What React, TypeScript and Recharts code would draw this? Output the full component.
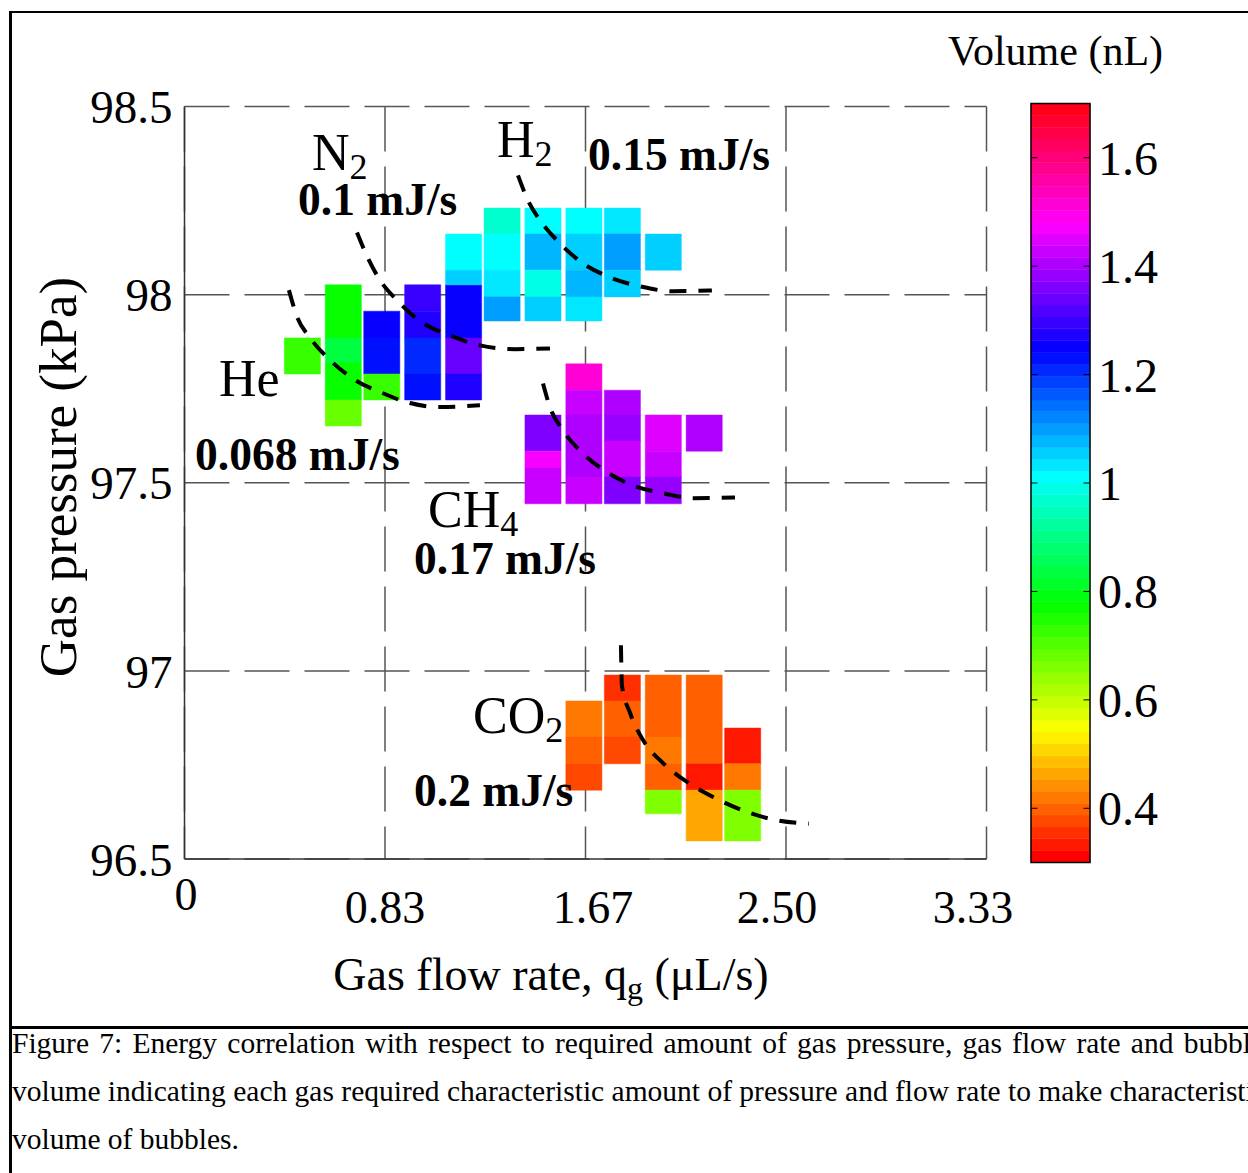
import React from 'react'
import {
  ComposedChart,
  XAxis,
  YAxis,
  CartesianGrid,
  ReferenceArea,
  ReferenceLine,
  Line,
} from 'recharts'

const FONT = '"Liberation Serif", "Times New Roman", Times, serif'

// axes
const X_TICKS = [0, 5 / 6, 5 / 3, 2.5, 10 / 3]
const X_TICK_LABELS = ['0', '0.83', '1.67', '2.50', '3.33']
const Y_TICKS = [96.5, 97, 97.5, 98, 98.5]
const CB_TICKS = [0.4, 0.6, 0.8, 1, 1.2, 1.4, 1.6]

// volume colormap (hsv, 64 steps)
const V_MIN = 0.3
const V_MAX = 1.7
const CMAP_LEVELS = 64

// cells: q = gas flow rate (uL/s), lo/hi = pressure span (kPa), vol = bubble volume (nL)
const HE_CELLS = [{ q: 0.49, lo: 97.789, hi: 97.885, vol: 0.72 }]

const N2_CELLS = [
  { q: 0.66, lo: 97.885, hi: 98.026, vol: 0.77 },
  { q: 0.66, lo: 97.818, hi: 97.885, vol: 0.83 },
  { q: 0.66, lo: 97.72, hi: 97.818, vol: 0.76 },
  { q: 0.66, lo: 97.651, hi: 97.72, vol: 0.67 },
  { q: 0.82, lo: 97.885, hi: 97.956, vol: 1.23 },
  { q: 0.82, lo: 97.789, hi: 97.885, vol: 1.21 },
  { q: 0.82, lo: 97.72, hi: 97.789, vol: 0.72 },
  { q: 0.99, lo: 97.956, hi: 98.026, vol: 1.28 },
  { q: 0.99, lo: 97.885, hi: 97.956, vol: 1.27 },
  { q: 0.99, lo: 97.789, hi: 97.885, vol: 1.19 },
  { q: 0.99, lo: 97.72, hi: 97.789, vol: 1.22 },
  { q: 1.16, lo: 97.885, hi: 98.026, vol: 1.23 },
  { q: 1.16, lo: 97.789, hi: 97.885, vol: 1.33 },
  { q: 1.16, lo: 97.72, hi: 97.789, vol: 1.26 },
]

const H2_CELLS = [
  { q: 1.16, lo: 98.065, hi: 98.161, vol: 1.0 },
  { q: 1.16, lo: 98.026, hi: 98.065, vol: 1.05 },
  { q: 1.32, lo: 98.161, hi: 98.23, vol: 0.95 },
  { q: 1.32, lo: 98.065, hi: 98.161, vol: 1.0 },
  { q: 1.32, lo: 97.994, hi: 98.065, vol: 1.02 },
  { q: 1.32, lo: 97.93, hi: 97.994, vol: 1.09 },
  { q: 1.49, lo: 98.161, hi: 98.23, vol: 1.0 },
  { q: 1.49, lo: 98.065, hi: 98.161, vol: 1.07 },
  { q: 1.49, lo: 97.994, hi: 98.065, vol: 0.97 },
  { q: 1.49, lo: 97.93, hi: 97.994, vol: 1.05 },
  { q: 1.66, lo: 98.161, hi: 98.23, vol: 1.0 },
  { q: 1.66, lo: 98.065, hi: 98.161, vol: 1.05 },
  { q: 1.66, lo: 97.994, hi: 98.065, vol: 1.06 },
  { q: 1.66, lo: 97.93, hi: 97.994, vol: 1.02 },
  { q: 1.82, lo: 98.161, hi: 98.23, vol: 1.02 },
  { q: 1.82, lo: 98.065, hi: 98.161, vol: 1.09 },
  { q: 1.82, lo: 97.994, hi: 98.065, vol: 1.05 },
  { q: 1.99, lo: 98.065, hi: 98.161, vol: 1.05 },
]

const CH4_CELLS = [
  { q: 1.49, lo: 97.584, hi: 97.68, vol: 1.36 },
  { q: 1.49, lo: 97.539, hi: 97.584, vol: 1.45 },
  { q: 1.49, lo: 97.444, hi: 97.539, vol: 1.42 },
  { q: 1.66, lo: 97.746, hi: 97.816, vol: 1.51 },
  { q: 1.66, lo: 97.68, hi: 97.746, vol: 1.42 },
  { q: 1.66, lo: 97.515, hi: 97.68, vol: 1.39 },
  { q: 1.66, lo: 97.444, hi: 97.515, vol: 1.42 },
  { q: 1.82, lo: 97.68, hi: 97.746, vol: 1.39 },
  { q: 1.82, lo: 97.611, hi: 97.68, vol: 1.37 },
  { q: 1.82, lo: 97.515, hi: 97.611, vol: 1.42 },
  { q: 1.82, lo: 97.444, hi: 97.515, vol: 1.34 },
  { q: 1.99, lo: 97.584, hi: 97.68, vol: 1.44 },
  { q: 1.99, lo: 97.515, hi: 97.584, vol: 1.42 },
  { q: 1.99, lo: 97.444, hi: 97.515, vol: 1.37 },
  { q: 2.16, lo: 97.584, hi: 97.68, vol: 1.39 },
]

const CO2_CELLS = [
  { q: 1.66, lo: 96.824, hi: 96.92, vol: 0.41 },
  { q: 1.66, lo: 96.753, hi: 96.824, vol: 0.39 },
  { q: 1.66, lo: 96.683, hi: 96.753, vol: 0.375 },
  { q: 1.82, lo: 96.92, hi: 96.989, vol: 0.35 },
  { q: 1.82, lo: 96.824, hi: 96.92, vol: 0.39 },
  { q: 1.82, lo: 96.753, hi: 96.824, vol: 0.375 },
  { q: 1.99, lo: 96.824, hi: 96.989, vol: 0.39 },
  { q: 1.99, lo: 96.753, hi: 96.824, vol: 0.41 },
  { q: 1.99, lo: 96.683, hi: 96.753, vol: 0.39 },
  { q: 1.99, lo: 96.62, hi: 96.683, vol: 0.65 },
  { q: 2.16, lo: 96.753, hi: 96.989, vol: 0.39 },
  { q: 2.16, lo: 96.683, hi: 96.753, vol: 0.33 },
  { q: 2.16, lo: 96.548, hi: 96.683, vol: 0.46 },
  { q: 2.32, lo: 96.753, hi: 96.848, vol: 0.33 },
  { q: 2.32, lo: 96.683, hi: 96.753, vol: 0.41 },
  { q: 2.32, lo: 96.548, hi: 96.683, vol: 0.65 },
]

// constant-energy guide curves
const HE_CURVE = [
  { x: 0.434, y: 98.012 }, { x: 0.468, y: 97.941 }, { x: 0.522, y: 97.885 },
  { x: 0.605, y: 97.826 }, { x: 0.709, y: 97.773 }, { x: 0.821, y: 97.739 },
  { x: 0.937, y: 97.712 }, { x: 1.062, y: 97.701 }, { x: 1.228, y: 97.706 },
]
const N2_CURVE = [
  { x: 0.717, y: 98.165 }, { x: 0.763, y: 98.096 }, { x: 0.813, y: 98.038 },
  { x: 0.883, y: 97.985 }, { x: 0.991, y: 97.924 }, { x: 1.103, y: 97.892 },
  { x: 1.228, y: 97.865 }, { x: 1.374, y: 97.855 }, { x: 1.519, y: 97.857 },
]
const H2_CURVE = [
  { x: 1.386, y: 98.317 }, { x: 1.428, y: 98.25 }, { x: 1.478, y: 98.197 },
  { x: 1.561, y: 98.136 }, { x: 1.656, y: 98.083 }, { x: 1.768, y: 98.046 },
  { x: 1.893, y: 98.022 }, { x: 2.03, y: 98.009 }, { x: 2.192, y: 98.011 },
]
const CH4_CURVE = [
  { x: 1.49, y: 97.764 }, { x: 1.519, y: 97.701 }, { x: 1.573, y: 97.639 },
  { x: 1.656, y: 97.578 }, { x: 1.756, y: 97.528 }, { x: 1.864, y: 97.493 },
  { x: 1.989, y: 97.472 }, { x: 2.113, y: 97.459 }, { x: 2.288, y: 97.461 },
]
const CO2_CURVE = [
  { x: 1.814, y: 97.068 }, { x: 1.818, y: 96.962 }, { x: 1.852, y: 96.888 },
  { x: 1.906, y: 96.816 }, { x: 1.989, y: 96.755 }, { x: 2.089, y: 96.705 },
  { x: 2.197, y: 96.665 }, { x: 2.338, y: 96.625 }, { x: 2.454, y: 96.604 },
  { x: 2.595, y: 96.594 },
]

const CELL_HALF = 0.075

function levelColor(i: number) {
  return `hsl(${(i * 360) / CMAP_LEVELS}, 100%, 50%)`
}

function volumeColor(v: number) {
  const i = Math.round(((v - V_MIN) / (V_MAX - V_MIN)) * CMAP_LEVELS)
  return levelColor(Math.max(0, Math.min(CMAP_LEVELS - 1, i)))
}

const ALL_CELLS = [...HE_CELLS, ...N2_CELLS, ...H2_CELLS, ...CH4_CELLS, ...CO2_CELLS]
const CURVES = [HE_CURVE, N2_CURVE, H2_CURVE, CH4_CURVE, CO2_CURVE]

// small nudges the original figure has on its x labels
const X_TICK_NUDGE = [
  { dx: 1.5, dy: -13 },
  { dx: 0, dy: 0 },
  { dx: 7.5, dy: 0 },
  { dx: -9, dy: 0 },
  { dx: -13.5, dy: 0 },
]

const XTick = (props: any) => {
  const { x, y, payload } = props
  const i = X_TICKS.findIndex((t) => Math.abs(t - payload.value) < 1e-6)
  const n = X_TICK_NUDGE[i] || { dx: 0, dy: 0 }
  return (
    <text x={x + n.dx} y={y + 64 + n.dy} textAnchor="middle" fontFamily={FONT} fontSize={46} fill="#000">
      {X_TICK_LABELS[i]}
    </text>
  )
}

const GasLabel = ({ x, y, main, sub }: { x: number; y: number; main: string; sub?: string }) => (
  <text x={x} y={y} fontFamily={FONT} fontSize={52} fill="#000">
    {main}
    {sub && (
      <tspan dy={9} fontSize={36}>
        {sub}
      </tspan>
    )}
  </text>
)

const EnergyLabel = ({ x, y, text }: { x: number; y: number; text: string }) => (
  <text x={x} y={y} fontFamily={FONT} fontSize={45.5} fontWeight="bold" fill="#000">
    {text}
  </text>
)

export default function App() {
  const cbStep = (V_MAX - V_MIN) / CMAP_LEVELS
  const cbBands = Array.from({ length: CMAP_LEVELS }, (_, i) => ({
    i,
    x: 0.5,
    y: V_MIN + (i + 0.5) * cbStep,
  }))

  return (
    <div
      style={{
        position: 'absolute',
        left: 0,
        top: 0,
        width: 1248,
        height: 1173,
        overflow: 'hidden',
        background: '#fff',
        fontFamily: FONT,
      }}
    >
      {/* frame */}
      <div
        style={{
          position: 'absolute',
          left: 9,
          top: 11,
          width: 1400,
          height: 1400,
          borderLeft: '3px solid #000',
          borderTop: '2px solid #000',
          boxSizing: 'border-box',
        }}
      />
      <div style={{ position: 'absolute', left: 9, top: 1026, width: 1400, height: 2.5, background: '#000' }} />

      {/* main plot */}
      <div style={{ position: 'absolute', left: 0, top: 0 }}>
        <ComposedChart width={1030} height={1000} margin={{ top: 106.5, right: 43.5, bottom: 0, left: 0 }}>
          <CartesianGrid stroke="#555" strokeWidth={1.5} strokeDasharray="45 15" />
          <XAxis
            type="number"
            dataKey="x"
            domain={[0, 10 / 3]}
            ticks={X_TICKS}
            interval={0}
            allowDataOverflow
            height={141}
            tickLine={false}
            tickSize={0}
            tickMargin={0}
            axisLine={{ stroke: '#333', strokeWidth: 1.5 }}
            tick={(p: any) => <XTick {...p} />}
          />
          <YAxis
            type="number"
            dataKey="y"
            domain={[96.5, 98.5]}
            ticks={Y_TICKS}
            interval={0}
            allowDataOverflow
            width={184.5}
            tickLine={false}
            tickSize={10}
            tickMargin={2}
            axisLine={{ stroke: '#333', strokeWidth: 1.5 }}
            tick={{ fontSize: 47, fill: '#000', fontFamily: FONT }}
            tickFormatter={(v: number) => String(v)}
          />
          {ALL_CELLS.map((c, i) => (
            <ReferenceArea
              key={'c' + i}
              x1={c.q - CELL_HALF}
              x2={c.q + CELL_HALF}
              y1={c.lo}
              y2={c.hi}
              fill={volumeColor(c.vol)}
              fillOpacity={1}
              stroke={volumeColor(c.vol)}
              strokeWidth={0.5}
              ifOverflow="visible"
            />
          ))}
          {CURVES.map((d, i) => (
            <Line
              key={'l' + i}
              data={d}
              dataKey="y"
              type="monotone"
              stroke="#000"
              strokeWidth={4}
              strokeDasharray="17 12"
              dot={false}
              activeDot={false}
              isAnimationActive={false}
            />
          ))}
        </ComposedChart>
      </div>

      {/* colorbar */}
      <div style={{ position: 'absolute', left: 1000, top: 0 }}>
        <ComposedChart
          width={250}
          height={900}
          data={cbBands}
          margin={{ top: 103.5, right: 10, bottom: 37.5, left: 31 }}
        >
          <XAxis type="number" dataKey="x" domain={[0, 1]} allowDataOverflow hide />
          <YAxis
            type="number"
            dataKey="y"
            orientation="right"
            domain={[V_MIN, V_MAX]}
            allowDataOverflow
            ticks={CB_TICKS}
            interval={0}
            width={150}
            tickLine={false}
            axisLine={false}
            tickSize={6}
            tickMargin={2}
            tick={{ fontSize: 48, fill: '#000', fontFamily: FONT }}
            tickFormatter={(v: number) => String(v)}
          />
          {cbBands.map((b) => (
            <ReferenceArea
              key={'b' + b.i}
              x1={0}
              x2={1}
              y1={V_MIN + b.i * cbStep}
              y2={V_MIN + (b.i + 1) * cbStep}
              fill={levelColor(b.i)}
              fillOpacity={1}
              stroke={levelColor(b.i)}
              strokeWidth={0.5}
            />
          ))}
          <ReferenceArea x1={0} x2={1} y1={V_MIN} y2={V_MAX} fill="none" stroke="#000" strokeWidth={1.5} />
          {CB_TICKS.map((t) => (
            <ReferenceLine key={'tl' + t} segment={[{ x: 0, y: t }, { x: 0.11, y: t }]} stroke="#000" strokeWidth={1} />
          ))}
          {CB_TICKS.map((t) => (
            <ReferenceLine key={'tr' + t} segment={[{ x: 0.89, y: t }, { x: 1, y: t }]} stroke="#000" strokeWidth={1} />
          ))}
          <Line dataKey="y" stroke="none" dot={false} activeDot={false} isAnimationActive={false} />
        </ComposedChart>
      </div>

      {/* text overlay */}
      <svg
        width={1248}
        height={1173}
        style={{ position: 'absolute', left: 0, top: 0, pointerEvents: 'none' }}
      >
        <GasLabel x={312} y={170} main="N" sub="2" />
        <GasLabel x={497} y={157} main="H" sub="2" />
        <GasLabel x={219} y={396} main="He" />
        <GasLabel x={428} y={527} main="CH" sub="4" />
        <GasLabel x={473} y={733} main="CO" sub="2" />
        <EnergyLabel x={298} y={215} text="0.1 mJ/s" />
        <EnergyLabel x={588} y={170} text="0.15 mJ/s" />
        <EnergyLabel x={195} y={470} text="0.068 mJ/s" />
        <EnergyLabel x={414} y={574} text="0.17 mJ/s" />
        <EnergyLabel x={414} y={806} text="0.2 mJ/s" />

        <text x={551} y={990} textAnchor="middle" fontFamily={FONT} fontSize={46} fill="#000">
          Gas flow rate, q
          <tspan dy={9} fontSize={32}>
            g
          </tspan>
          <tspan dy={-9}> (μL/s)</tspan>
        </text>
        <text
          transform="translate(76,477) rotate(-90)"
          textAnchor="middle"
          fontFamily={FONT}
          fontSize={53}
          fill="#000"
        >
          Gas pressure (kPa)
        </text>
        <text x={948} y={65} fontFamily={FONT} fontSize={42} fill="#000">
          Volume (nL)
        </text>
      </svg>

      {/* caption */}
      <div
        style={{
          position: 'absolute',
          left: 12,
          top: 1019,
          width: 1252,
          fontFamily: FONT,
          fontSize: 29.5,
          lineHeight: '48px',
          color: '#000',
          whiteSpace: 'nowrap',
        }}
      >
        <div style={{ textAlign: 'justify', textAlignLast: 'justify' }}>
          Figure 7: Energy correlation with respect to required amount of gas pressure, gas flow rate and bubble
        </div>
        <div style={{ textAlign: 'justify', textAlignLast: 'justify' }}>
          volume indicating each gas required characteristic amount of pressure and flow rate to make characteristic
        </div>
        <div>volume of bubbles.</div>
      </div>
    </div>
  )
}
